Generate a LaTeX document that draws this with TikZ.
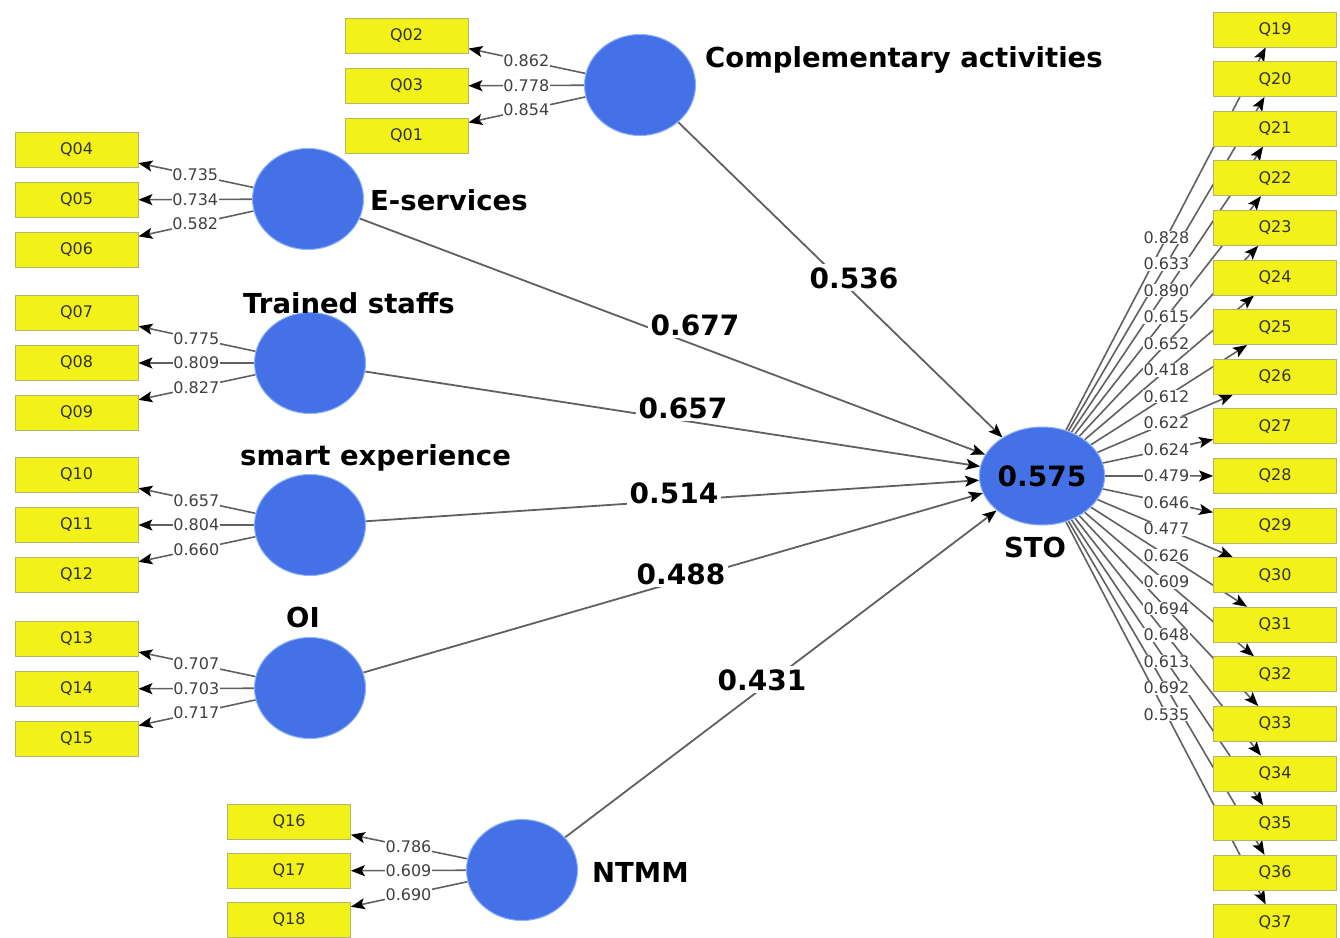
\documentclass[tikz,border=0pt]{standalone}
\usepackage{fontspec}
\setmainfont{DejaVu Sans}
\usetikzlibrary{shapes.geometric,arrows.meta,calc,backgrounds}
\definecolor{boxy}{HTML}{F2F218}
\definecolor{boxb}{HTML}{B4B46E}
\definecolor{lv}{HTML}{4472E6}
\definecolor{lvb}{HTML}{8AB0FF}
\definecolor{ln}{HTML}{606060}
\definecolor{lt}{HTML}{404040}
\tikzset{
 ind/.style={draw=boxb, line width=0.8pt, fill=boxy, minimum width=123pt, minimum height=35pt, inner sep=0pt, font=\fontsize{16}{16}\selectfont, text=black!80},
 lat/.style={ellipse, draw=lvb, line width=1pt, fill=lv, minimum width=111pt, minimum height=101pt, inner sep=0pt},
 ld/.style={draw=ln, line width=1.6pt, -{Stealth[length=14pt,width=11pt,inset=3pt,color=black]}},
 pth/.style={draw=ln, line width=1.8pt, -{Stealth[length=14pt,width=11pt,inset=3pt,color=black]}},
 lbl/.style={fill=white, inner sep=0.8pt, text=lt, font=\fontsize{16}{16}\selectfont},
 coef/.style={fill=white, inner sep=3pt, font=\fontsize{28}{28}\selectfont\bfseries, anchor=base},
 latname/.style={font=\fontsize{27.5}{28}\selectfont\bfseries, anchor=base west, inner sep=0pt},
}
\begin{document}
\begin{tikzpicture}[x=1pt,y=-1pt]
\useasboundingbox (0,0) rectangle (1340,937);
% latent variables
\node[lat] (ca) at (640,85) {};
\node[lat] (es) at (308,199) {};
\node[lat] (ts) at (310,363) {};
\node[lat] (se) at (310,525) {};
\node[lat] (oi) at (310,688) {};
\node[lat] (nt) at (522,870) {};
\node[lat, minimum width=110pt, minimum height=98pt, font=\fontsize{28}{28}\selectfont\bfseries] (sto) at (1042,476) {0.575};
% indicators
\node[ind] (q02) at (406.5,35.5) {Q02};
\node[ind] (q03) at (406.5,86) {Q03};
\node[ind] (q01) at (406.5,136) {Q01};
\node[ind] (q04) at (76.5,150) {Q04};
\node[ind] (q05) at (76.5,200) {Q05};
\node[ind] (q06) at (76.5,250) {Q06};
\node[ind] (q07) at (76.5,313) {Q07};
\node[ind] (q08) at (76.5,363) {Q08};
\node[ind] (q09) at (76.5,413) {Q09};
\node[ind] (q10) at (76.5,475) {Q10};
\node[ind] (q11) at (76.5,525) {Q11};
\node[ind] (q12) at (76.5,575) {Q12};
\node[ind] (q13) at (76.5,639) {Q13};
\node[ind] (q14) at (76.5,689) {Q14};
\node[ind] (q15) at (76.5,739) {Q15};
\node[ind] (q16) at (289,822) {Q16};
\node[ind] (q17) at (289,871) {Q17};
\node[ind] (q18) at (289,920) {Q18};
\foreach \i in {19,...,37}{
  \node[ind] (q\i) at (1275,{29.5+49.6*(\i-19)}) {Q\i};
}
% connectors
\begin{pgfonlayer}{background}
\foreach \c/\q in {ca/q02,ca/q03,ca/q01,es/q04,es/q05,es/q06,ts/q07,ts/q08,ts/q09,se/q10,se/q11,se/q12,oi/q13,oi/q14,oi/q15,nt/q16,nt/q17,nt/q18}{
  \draw[ld] (\c) -- (\q);
}
\foreach \i in {19,...,37}{
  \draw[ld] (sto) -- (q\i);
}
\draw[pth] (ca) -- (sto);
\draw[pth] (es) -- (sto);
\draw[pth] (ts) -- (sto);
\draw[pth] (se) -- (sto);
\draw[pth] (oi) -- (sto);
\draw[pth] (nt) -- (sto);
\end{pgfonlayer}
% loadings
\foreach \c/\q/\v in {ca/q02/0.862,ca/q03/0.778,ca/q01/0.854,es/q04/0.735,es/q05/0.734,es/q06/0.582,ts/q07/0.775,ts/q08/0.809,ts/q09/0.827,se/q10/0.657,se/q11/0.804,se/q12/0.660,oi/q13/0.707,oi/q14/0.703,oi/q15/0.717,nt/q16/0.786,nt/q17/0.609,nt/q18/0.690}{
  \node[lbl] at ($(\c)!0.487!(\q)$) {\v};
}
\foreach \i/\v in {19/0.828,20/0.633,21/0.890,22/0.615,23/0.652,24/0.418,25/0.612,26/0.622,27/0.624,28/0.479,29/0.646,30/0.477,31/0.626,32/0.609,33/0.694,34/0.648,35/0.613,36/0.692,37/0.535}{
  \node[lbl] at ($(sto)!0.534!(q\i)$) {\v};
}
% path coefficients
\node[coef] at (854,288) {0.536};
\node[coef] at (695,335) {0.677};
\node[coef] at (683,418) {0.657};
\node[coef] at (674,503) {0.514};
\node[coef] at (681,584) {0.488};
\node[coef] at (762,690) {0.431};
% names
\node[latname] at (705,67) {Complementary activities};
\node[latname] at (370,210) {E-services};
\node[latname] at (243,313) {Trained staffs};
\node[latname] at (240,465) {smart experience};
\node[latname, anchor=base] at (303,627) {OI};
\node[latname] at (592,882) {NTMM};
\node[latname, anchor=base] at (1035,557) {STO};
\end{tikzpicture}
\end{document}
